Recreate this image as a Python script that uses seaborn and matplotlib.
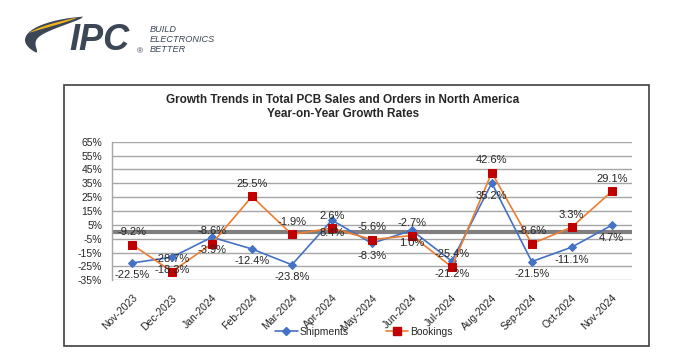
import numpy as np
import pandas as pd
import matplotlib
matplotlib.use("Agg")
import matplotlib.pyplot as plt
import matplotlib.patches as mpatches
from matplotlib.lines import Line2D
import seaborn as sns

months = ["Nov-2023", "Dec-2023", "Jan-2024", "Feb-2024", "Mar-2024", "Apr-2024",
          "May-2024", "Jun-2024", "Jul-2024", "Aug-2024", "Sep-2024", "Oct-2024", "Nov-2024"]
shipments = [-22.5, -18.3, -3.9, -12.4, -23.8, 8.4, -8.3, 1.0, -21.2, 35.2, -21.5, -11.1, 4.7]
bookings = [-9.2, -28.7, -8.6, 25.5, -1.9, 2.6, -5.6, -2.7, -25.4, 42.6, -8.6, 3.3, 29.1]
y_ticks = [-35, -25, -15, -5, 5, 15, 25, 35, 45, 55, 65]

df = pd.DataFrame({"pos": range(len(months)), "Month": months,
                   "Shipments": shipments, "Bookings": bookings})

sns.set_theme(style="white")
plt.rcParams["font.family"] = ["Liberation Sans", "DejaVu Sans"]
plt.rcParams["axes.unicode_minus"] = False

BLUE = "#4472C4"
ORANGE = "#ED7D31"
RED = "#C00000"
SLATE = "#3B4756"
GOLD = "#F2B51C"

fig = plt.figure(figsize=(7.0, 3.61), dpi=100)

# ---- background layer (logo + chart box), pixel coords, y down
bg = fig.add_axes([0, 0, 1, 1], zorder=0)
bg.set_xlim(0, 700)
bg.set_ylim(361, 0)
bg.axis("off")
bg.add_patch(mpatches.Rectangle((64, 85), 585, 261, fill=False, ec="#404040", lw=1.2))


def swoosh(t0, t1, off0, off1, cx=100, cy=40, a=75, b=24):
    t = np.radians(np.linspace(t0, t1, 60))
    s = np.sin(np.pi * (t - t[0]) / (t[-1] - t[0])) ** 0.6
    o0 = off0 * s
    o1 = off1 * s
    xo = cx + (a - o0) * np.cos(t)
    yo = cy - (b - o0 * 0.7) * np.sin(t)
    xi = cx + (a - o1) * np.cos(t)
    yi = cy - (b - o1 * 0.7) * np.sin(t)
    return np.column_stack([np.r_[xo, xi[::-1]], np.r_[yo, yi[::-1]]])


bg.add_patch(mpatches.Polygon(swoosh(103, 212, 0, 13), closed=True, fc=SLATE, ec="none"))
bg.add_patch(mpatches.Polygon(swoosh(108, 162, 3, 6.5), closed=True, fc=GOLD, ec="none"))
bg.text(69, 40, "IPC", fontsize=26, fontweight="bold", style="italic", color=SLATE,
        va="center", ha="left")
bg.text(137, 52, "®", fontsize=6, color=SLATE, va="center", ha="left")
for i, w in enumerate(["BUILD", "ELECTRONICS", "BETTER"]):
    bg.text(150, 30 + i * 10, w, fontsize=6.6, style="italic", color=SLATE,
            va="center", ha="left")

# ---- title
fig.text(343 / 700, 1 - 100 / 361, "Growth Trends in Total PCB Sales and Orders in North America",
         ha="center", va="center", fontsize=8.5, fontweight="bold")
fig.text(343 / 700, 1 - 114 / 361, "Year-on-Year Growth Rates",
         ha="center", va="center", fontsize=8.5, fontweight="bold")

# ---- main chart
ax = fig.add_axes([112 / 700, 1 - 280.3 / 361, (631.7 - 112) / 700, (280.3 - 141.7) / 361], zorder=2)
ax.patch.set_alpha(0)

for y in y_ticks:
    ax.axhline(y, color="#A6A6A6", lw=1, zorder=0)
ax.axhline(0, color="#7F7F7F", lw=3, zorder=0.5)

sns.lineplot(data=df, x="pos", y="Shipments", ax=ax, color=BLUE, lw=1.2,
             marker="D", markersize=4, markeredgecolor=BLUE, zorder=3)
sns.lineplot(data=df, x="pos", y="Bookings", ax=ax, color=ORANGE, lw=1.2,
             marker="s", markersize=6, markerfacecolor=RED, markeredgecolor=RED, zorder=4)

for i, (s, b) in enumerate(zip(shipments, bookings)):
    ax.annotate(f"{s:.1f}%", (i, s), xytext=(0, -9), textcoords="offset points",
                ha="center", va="center", fontsize=8, zorder=5)
    ax.annotate(f"{b:.1f}%", (i, b), xytext=(0, 9), textcoords="offset points",
                ha="center", va="center", fontsize=8, zorder=5)

ax.set_xlim(-0.5, len(months) - 0.5)
ax.set_ylim(-35, 65)
ax.set_yticks(y_ticks)
ax.set_yticklabels([f"{t}%" for t in y_ticks], fontsize=7.5)
ax.set_xticks(range(len(months)))
ax.set_xticklabels(months, rotation=45, ha="right", va="top", rotation_mode="anchor", fontsize=7.5)
ax.tick_params(axis="both", length=0)
ax.tick_params(axis="y", pad=7)
ax.tick_params(axis="x", pad=9)
ax.set_xlabel("")
ax.set_ylabel("")
for side in ["top", "right", "bottom"]:
    ax.spines[side].set_visible(False)
ax.spines["left"].set_color("#A6A6A6")
ax.spines["left"].set_linewidth(1)

handles = [Line2D([], [], color=BLUE, lw=1.2, marker="D", markersize=4),
           Line2D([], [], color=ORANGE, lw=1.2, marker="s", markersize=6,
                  markerfacecolor=RED, markeredgecolor=RED)]
fig.legend(handles, ["Shipments", "Bookings"], loc="center", ncol=2,
           bbox_to_anchor=(364 / 700, 1 - 332 / 361), frameon=False, fontsize=7.5,
           handlelength=2.2, handletextpad=0.2, columnspacing=3.5)

fig.savefig("out.png", dpi=100)
